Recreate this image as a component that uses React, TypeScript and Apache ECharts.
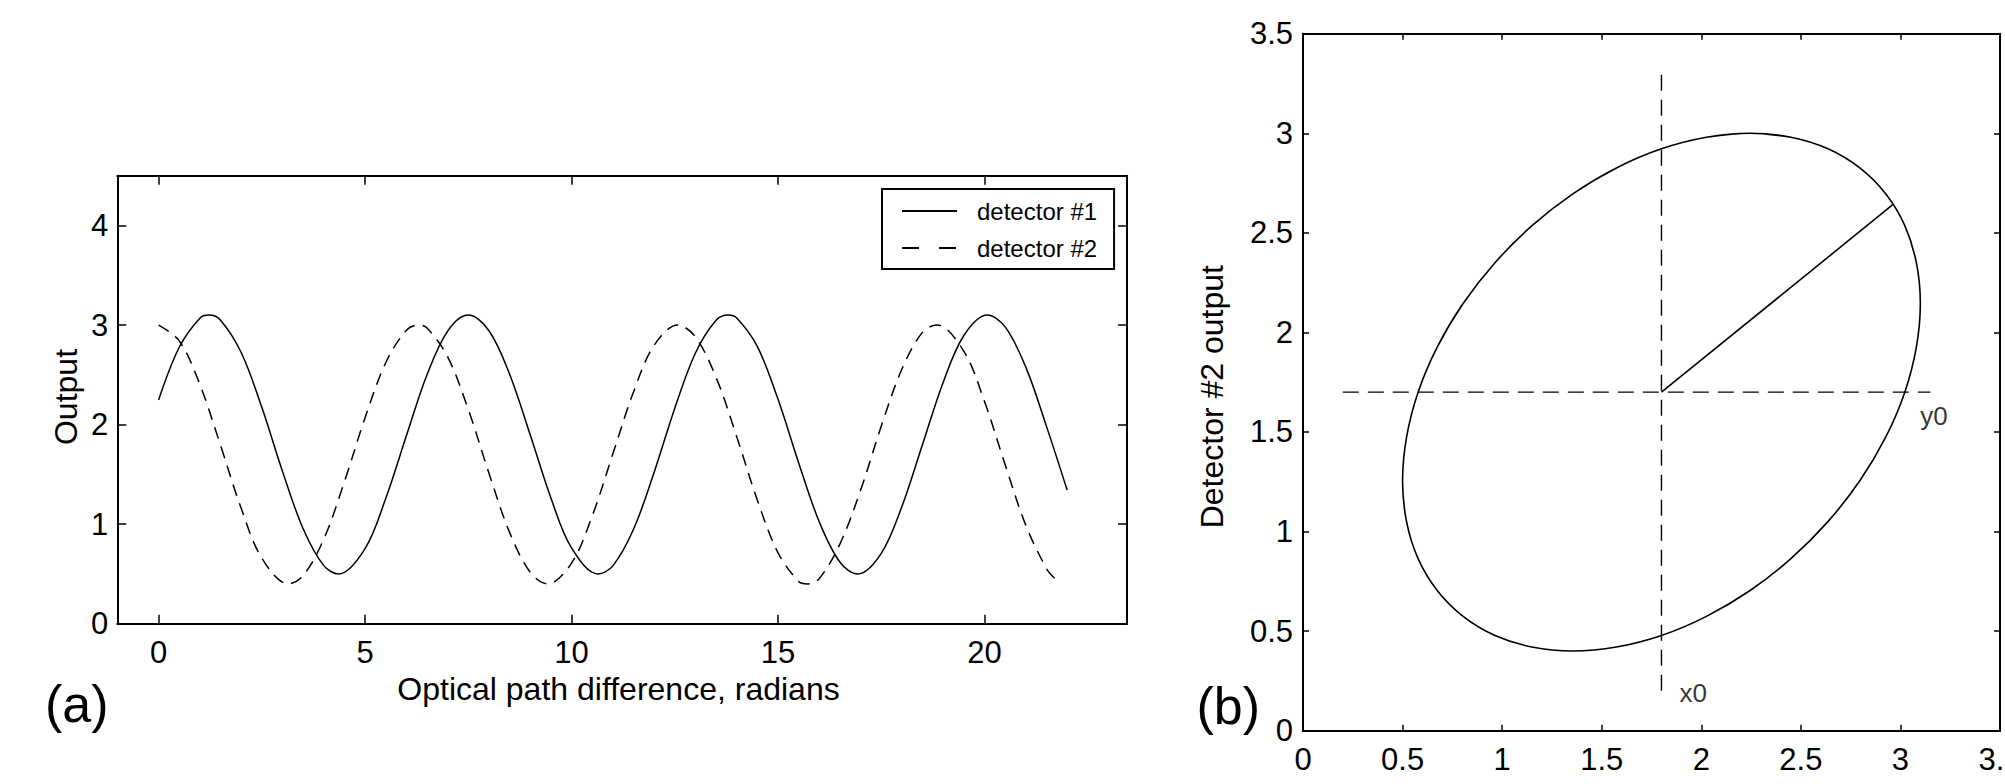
import React, { useEffect, useRef } from "react";
import * as echarts from "echarts";

const FONT = "'Liberation Sans', Arial, Helvetica, sans-serif";

// ---------- panel (a) ----------
const X_TICKS_A = [0, 5, 10, 15, 20];
const Y_TICKS_A = [0, 1, 2, 3, 4];

const D1_X = [0, 0.5, 1.0, 1.22, 1.5, 2.0, 2.5, 3.0, 3.5, 4.0, 4.36, 5.0, 5.5, 6.0, 6.5, 7.0, 7.5, 8.0, 8.5, 9.0, 9.5, 10.0, 10.64, 11.0, 11.5, 12.0, 12.5, 13.0, 13.5, 13.79, 14.0, 14.5, 15.0, 15.5, 16.0, 16.5, 16.93, 17.5, 18.0, 18.5, 19.0, 19.5, 20.07, 20.5, 21.0, 21.5, 22.0];
const D1_Y = [2.247, 2.777, 3.069, 3.1, 3.049, 2.724, 2.173, 1.53, 0.954, 0.583, 0.5, 0.755, 1.257, 1.887, 2.5, 2.939, 3.1, 2.943, 2.506, 1.896, 1.263, 0.761, 0.5, 0.581, 0.948, 1.522, 2.165, 2.719, 3.047, 3.1, 3.07, 2.783, 2.254, 1.615, 1.021, 0.617, 0.5, 0.707, 1.178, 1.802, 2.425, 2.895, 3.1, 2.981, 2.577, 1.982, 1.343];

const D2_X = [0, 0.5, 1.0, 1.5, 2.0, 2.5, 3.14, 3.5, 4.0, 4.5, 5.0, 5.5, 6.0, 6.28, 6.5, 7.0, 7.5, 8.0, 8.5, 9.0, 9.42, 10.0, 10.5, 11.0, 11.5, 12.0, 12.57, 13.0, 13.5, 14.0, 14.5, 15.0, 15.5, 15.71, 16.0, 16.5, 17.0, 17.5, 18.0, 18.5, 18.85, 19.5, 20.0, 20.5, 21.0, 21.5, 21.7];
const D2_Y = [3.0, 2.841, 2.402, 1.792, 1.159, 0.659, 0.4, 0.483, 0.85, 1.426, 2.069, 2.621, 2.948, 3.0, 2.97, 2.68, 2.151, 1.511, 0.917, 0.516, 0.4, 0.609, 1.082, 1.706, 2.328, 2.797, 3.0, 2.88, 2.473, 1.878, 1.239, 0.712, 0.424, 0.4, 0.455, 0.802, 1.342, 1.985, 2.558, 2.929, 3.0, 2.735, 2.231, 1.597, 0.988, 0.554, 0.455];

// ---------- panel (b) ----------
// Lissajous loop: detector #1 output (x) against detector #2 output (y), read every 10 degrees of phase
const ELLIPSE_X = [2.026, 2.245, 2.45, 2.636, 2.796, 2.926, 3.022, 3.08, 3.1, 3.08, 3.022, 2.926, 2.796, 2.636, 2.45, 2.245, 2.026, 1.8, 1.574, 1.355, 1.15, 0.964, 0.804, 0.674, 0.578, 0.52, 0.5, 0.52, 0.578, 0.674, 0.804, 0.964, 1.15, 1.355, 1.574, 1.8, 2.026, 2.245, 2.45];
const ELLIPSE_Y = [2.98, 3.0, 2.98, 2.922, 2.826, 2.696, 2.536, 2.35, 2.145, 1.926, 1.7, 1.474, 1.255, 1.05, 0.864, 0.704, 0.574, 0.478, 0.42, 0.4, 0.42, 0.478, 0.574, 0.704, 0.864, 1.05, 1.255, 1.474, 1.7, 1.926, 2.145, 2.35, 2.536, 2.696, 2.826, 2.922, 2.98, 3.0, 2.98];

const RADIUS_X = [1.8, 2.96];
const RADIUS_Y = [1.7, 2.64];
const X0_LINE_X = [1.8, 1.8];
const X0_LINE_Y = [0.2, 3.3];
const Y0_LINE_X = [0.2, 3.15];
const Y0_LINE_Y = [1.7, 1.7];
const MARK_NAMES = ["y0", "x0"];
const MARK_X = [3.1, 1.89];
const MARK_Y = [1.58, 0.19];

const pairs = (xs: number[], ys: number[]) => xs.map((x, i) => [x, ys[i]]);

const axisBase = (tickLen: number) => ({
  type: "value" as const,
  axisLine: { show: true, onZero: false, lineStyle: { color: "#000", width: 2 } },
  axisTick: { show: true, inside: true, length: tickLen, lineStyle: { color: "#000", width: 1.5 } },
  splitLine: { show: false },
  axisLabel: { color: "#000", fontSize: 31, fontFamily: FONT },
});

export default function App() {
  const ref = useRef<HTMLDivElement>(null);
  useEffect(() => {
    if (!ref.current) return;
    const chart = echarts.init(ref.current, undefined, { renderer: "svg" });
    const a = axisBase(9);
    const b = axisBase(6);
    const SMOOTH = 0.35;
    const option: any = {
      animation: false,
      backgroundColor: "#fff",
      grid: [
        { left: 117.3, top: 175.7, width: 1009.7, height: 448, containLabel: false, outerBoundsMode: "none" },
        { left: 1303, top: 33.7, width: 697, height: 697, containLabel: false, outerBoundsMode: "none" },
      ],
      xAxis: [
        {
          ...a, gridIndex: 0, position: "bottom", min: -1, max: 23.45,
          axisTick: { ...a.axisTick, customValues: X_TICKS_A },
          axisLabel: { ...a.axisLabel, customValues: X_TICKS_A, margin: 13 },
        },
        {
          ...a, gridIndex: 0, position: "top", min: -1, max: 23.45,
          axisTick: { ...a.axisTick, customValues: X_TICKS_A },
          axisLabel: { show: false },
        },
        {
          ...b, gridIndex: 1, position: "bottom", min: 0, max: 3.5, interval: 0.5,
          axisLabel: { ...b.axisLabel, margin: 13 },
        },
        {
          ...b, gridIndex: 1, position: "top", min: 0, max: 3.5, interval: 0.5,
          axisLabel: { show: false },
        },
      ],
      yAxis: [
        {
          ...a, gridIndex: 0, position: "left", min: 0, max: 4.5,
          axisTick: { ...a.axisTick, customValues: Y_TICKS_A },
          axisLabel: { ...a.axisLabel, customValues: Y_TICKS_A, margin: 9 },
        },
        {
          ...a, gridIndex: 0, position: "right", min: 0, max: 4.5,
          axisTick: { ...a.axisTick, customValues: Y_TICKS_A },
          axisLabel: { show: false },
        },
        {
          ...b, gridIndex: 1, position: "left", min: 0, max: 3.5, interval: 0.5,
          axisLabel: { ...b.axisLabel, margin: 10 },
        },
        {
          ...b, gridIndex: 1, position: "right", min: 0, max: 3.5, interval: 0.5,
          axisLabel: { show: false },
        },
      ],
      legend: {
        data: [
          { name: "detector #1" },
          { name: "detector #2", lineStyle: { type: [17, 20] } },
        ],
        orient: "vertical",
        left: 882,
        top: 189,
        padding: [10, 17, 9, 19],
        itemWidth: 55,
        itemHeight: 14,
        itemGap: 13,
        selectedMode: false,
        borderColor: "#000",
        borderWidth: 2,
        backgroundColor: "#fff",
        itemStyle: { color: "rgba(0,0,0,0)", borderColor: "rgba(0,0,0,0)", borderWidth: 0 },
        textStyle: { color: "#000", fontSize: 24, fontFamily: FONT, padding: [0, 0, 0, 15] },
      },
      series: [
        {
          type: "line", name: "detector #1", xAxisIndex: 0, yAxisIndex: 0,
          data: pairs(D1_X, D1_Y), symbol: "none", showSymbol: false, smooth: SMOOTH,
          lineStyle: { color: "#000", width: 1.5, type: "solid" }, itemStyle: { color: "#000" },
        },
        {
          type: "line", name: "detector #2", xAxisIndex: 0, yAxisIndex: 0,
          data: pairs(D2_X, D2_Y), symbol: "none", showSymbol: false, smooth: SMOOTH,
          lineStyle: { color: "#000", width: 1.5, type: [12, 8] }, itemStyle: { color: "#000" },
        },
        {
          type: "line", name: "ellipse", xAxisIndex: 2, yAxisIndex: 2,
          data: pairs(ELLIPSE_X, ELLIPSE_Y), symbol: "none", showSymbol: false, smooth: SMOOTH,
          lineStyle: { color: "#000", width: 1.6 },
        },
        {
          type: "line", name: "radius", xAxisIndex: 2, yAxisIndex: 2,
          data: pairs(RADIUS_X, RADIUS_Y), symbol: "none", showSymbol: false,
          lineStyle: { color: "#000", width: 1.6 },
        },
        {
          type: "line", name: "x0 line", xAxisIndex: 2, yAxisIndex: 2,
          data: pairs(X0_LINE_X, X0_LINE_Y), symbol: "none", showSymbol: false,
          lineStyle: { color: "#000", width: 1.4, type: [16, 9] },
        },
        {
          type: "line", name: "y0 line", xAxisIndex: 2, yAxisIndex: 2,
          data: pairs(Y0_LINE_X, Y0_LINE_Y), symbol: "none", showSymbol: false,
          lineStyle: { color: "#000", width: 1.4, type: [16, 9] },
        },
        {
          type: "scatter", name: "marks", xAxisIndex: 2, yAxisIndex: 2,
          symbolSize: 0,
          data: MARK_X.map((x, i) => ({ value: [x, MARK_Y[i]], name: MARK_NAMES[i] })),
          label: { show: true, formatter: "{b}", position: "right", distance: 0, color: "#000", fontSize: 26, fontFamily: FONT },
        },
      ],
      graphic: [
        { type: "text", x: 66, y: 397, rotation: Math.PI / 2, style: { text: "Output", fill: "#000", fontSize: 32, fontFamily: FONT, align: "center", verticalAlign: "middle" } },
        { type: "text", x: 618.5, y: 689, style: { text: "Optical path difference, radians", fill: "#000", fontSize: 32, fontFamily: FONT, align: "center", verticalAlign: "middle" } },
        { type: "text", x: 76.7, y: 704, style: { text: "(a)", fill: "#000", fontSize: 52, fontFamily: FONT, align: "center", verticalAlign: "middle" } },
        { type: "text", x: 1212, y: 396.7, rotation: Math.PI / 2, style: { text: "Detector #2 output", fill: "#000", fontSize: 32, fontFamily: FONT, align: "center", verticalAlign: "middle" } },
        { type: "text", x: 1228.3, y: 706, style: { text: "(b)", fill: "#000", fontSize: 52, fontFamily: FONT, align: "center", verticalAlign: "middle" } },
      ],
    };
    chart.setOption(option);
    return () => chart.dispose();
  }, []);
  return (
    <div
      ref={ref}
      style={{ position: "fixed", left: 0, top: 0, width: 2005, height: 784, background: "#fff" }}
    />
  );
}
